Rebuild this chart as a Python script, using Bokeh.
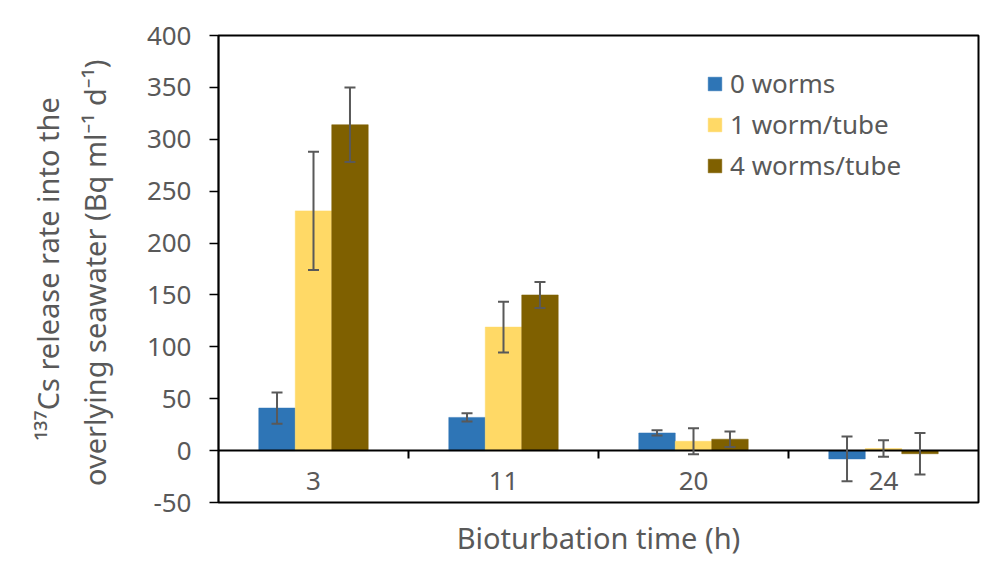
from bokeh.plotting import figure
from bokeh.models import (ColumnDataSource, Range1d, FixedTicker, Whisker, TeeHead,
                          Span, Legend, LegendItem, Title)
from bokeh.transform import dodge
from bokeh.core.properties import value
from bokeh.embed import file_html
from bokeh.resources import INLINE

# ---- data ----
categories = ["3", "11", "20", "24"]
series_names = ["0 worms", "1 worm/tube", "4 worms/tube"]
zero_worms = [41, 32, 17, -8]
zero_worms_err = [15, 4, 2.5, 21.5]
one_worm = [231, 119, 9, 2]
one_worm_err = [57, 24.5, 12.5, 8]
four_worms = [314, 150, 11, -3]
four_worms_err = [36, 12.5, 7.5, 20]
y_ticks = [-50, 0, 50, 100, 150, 200, 250, 300, 350, 400]
y_tick_labels = {-50: "-50"}

colors = ["#2E75B6", "#FFD966", "#7F6000"]
FONT = "Noto Sans"
TXT = "#595959"

p = figure(width=995, height=569, x_range=categories, y_range=Range1d(-50, 400),
           output_backend="svg", toolbar_location=None,
           min_border_left=218, min_border_right=17, min_border_top=35, min_border_bottom=67)
p.x_range.range_padding = 0
p.grid.visible = False
p.outline_line_color = "black"
p.outline_line_width = 2
p.background_fill_color = "white"
p.border_fill_color = "white"

vals = [zero_worms, one_worm, four_worms]
errs = [zero_worms_err, one_worm_err, four_worms_err]
offsets = [-0.192, 0.0, 0.192]
renderers = []
for v, e, off, c in zip(vals, errs, offsets, colors):
    src = ColumnDataSource(dict(cat=categories, val=v,
                                upper=[a + b for a, b in zip(v, e)],
                                lower=[a - b for a, b in zip(v, e)]))
    r = p.vbar(x=dodge("cat", off, range=p.x_range), top="val", bottom=0, width=0.192,
               source=src, fill_color=c, line_color=c, line_width=0.5)
    renderers.append(r)
    w = Whisker(base=dodge("cat", off, range=p.x_range), upper="upper", lower="lower", source=src,
                line_color="#595959", line_width=2, level="overlay",
                upper_head=TeeHead(size=11, line_color="#595959", line_width=2),
                lower_head=TeeHead(size=11, line_color="#595959", line_width=2))
    p.add_layout(w)

# zero line (category axis)
p.add_layout(Span(location=0, dimension="width", line_color="black", line_width=2))

# tick marks between categories on the zero line
tick_src = ColumnDataSource(dict(cat=categories[:-1]))
p.segment(x0=dodge("cat", 0.5, range=p.x_range), x1=dodge("cat", 0.5, range=p.x_range),
          y0=0, y1=-7.5, source=tick_src, line_color="black", line_width=2)

# category labels
lab_src = ColumnDataSource(dict(cat=categories))
p.text(x="cat", y=-29.5, text="cat", source=lab_src, text_align="center",
       text_baseline="middle", text_font=value(FONT), text_font_size="26px", text_color=TXT)

# y axis
ya = p.yaxis[0]
ya.ticker = FixedTicker(ticks=y_ticks)
ya.major_label_overrides = y_tick_labels
ya.minor_tick_line_color = None
ya.major_tick_in = 0
ya.major_tick_out = 9
ya.major_tick_line_color = "black"
ya.major_tick_line_width = 1.5
ya.axis_line_color = "black"
ya.axis_line_width = 1.5
ya.major_label_text_font = FONT
ya.major_label_text_font_size = "26px"
ya.major_label_text_color = TXT
ya.major_label_standoff = 18
ya.axis_label = "\u00b9\u00b3\u2077Cs release rate into the\noverlying  seawater (Bq ml\u207b\u00b9 d\u207b\u00b9)"
ya.axis_label_text_font = FONT
ya.axis_label_text_font_size = "29px"
ya.axis_label_text_font_style = "normal"
ya.axis_label_text_color = TXT
ya.axis_label_standoff = 30
ya.axis_label_text_line_height = 1.2

# x axis: hidden; its title is drawn as a title below the frame
p.xaxis.visible = False
p.add_layout(Title(text="Bioturbation time (h)", align="center", text_font=FONT,
                   text_font_size="29px", text_font_style="normal", text_color=TXT,
                   standoff=26), "below")

legend = Legend(items=[LegendItem(label=n, renderers=[r]) for n, r in zip(series_names, renderers)],
                location=(488, 319), orientation="vertical",
                glyph_width=17, glyph_height=17, label_standoff=7, spacing=5,
                padding=0, margin=0, border_line_color=None, background_fill_alpha=0,
                label_text_font=FONT, label_text_font_size="26px", label_text_color=TXT)
p.add_layout(legend)

open("out.html", "w").write(file_html(p, INLINE))
